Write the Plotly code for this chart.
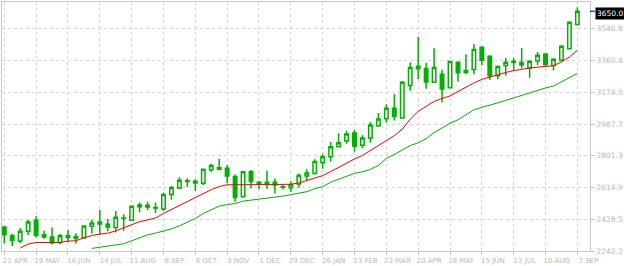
import plotly.graph_objects as go

# ---- data (weekly, 21 Apr 2014 .. 7 Sep 2015) ----
week_index = list(range(73))
tick_positions = list(range(0, 73, 4))
tick_labels = ["21 APR", "19 MAY", "16 JUN", "14 JUL", "11 AUG", "8 SEP", "6 OCT",
               "3 NOV", "1 DEC", "29 DEC", "26 JAN", "23 FEB", "23 MAR", "20 APR",
               "18 MAY", "15 JUN", "13 JUL", "10 AUG", "7 SEP"]

open_ = [2383.7, 2331.3, 2300.4, 2357.5, 2423.3, 2337.1, 2323.7, 2291.7, 2331.3, 2326.6,
         2317.9, 2387.8, 2412.8, 2399.4, 2379.6, 2433.2, 2422.7, 2511.9, 2510.7, 2494.4,
         2488.6, 2574.2, 2612.6, 2654.5, 2651.6, 2640.0, 2719.8, 2731.4, 2727.3, 2679.0,
         2560.2, 2708.1, 2645.8, 2645.8, 2645.8, 2617.8, 2613.8, 2635.9, 2682.5, 2696.5,
         2760.5, 2795.5, 2853.7, 2888.7, 2935.3, 2863.0, 2906.1, 2977.8, 3018.5, 3080.9,
         3022.6, 3213.6, 3327.2, 3313.8, 3232.3, 3280.6, 3200.8, 3350.5, 3290.5, 3308.0,
         3437.9, 3385.5, 3270.7, 3331.3, 3356.3, 3348.8, 3315.6, 3358.1, 3398.8, 3331.3,
         3362.2, 3430.3, 3571.8]
high = [2387.8, 2344.1, 2377.9, 2424.5, 2446.0, 2360.4, 2380.8, 2343.0, 2367.4, 2347.0,
        2392.5, 2426.2, 2482.7, 2430.3, 2476.9, 2457.7, 2507.8, 2527.6, 2531.1, 2527.6,
        2585.8, 2624.3, 2674.9, 2669.1, 2663.3, 2724.4, 2754.7, 2783.8, 2746.6, 2690.6,
        2711.6, 2717.4, 2653.4, 2713.9, 2667.3, 2632.4, 2651.6, 2696.5, 2722.7, 2781.5,
        2813.0, 2882.8, 2932.9, 2948.7, 2952.7, 2921.3, 2999.3, 3051.7, 3104.2, 3162.4,
        3239.8, 3349.3, 3497.9, 3347.6, 3433.2, 3306.8, 3359.2, 3353.4, 3397.1, 3457.1,
        3443.7, 3391.3, 3331.3, 3375.6, 3375.6, 3433.8, 3362.2, 3410.5, 3401.1, 3373.8,
        3449.5, 3591.1, 3672.6]
low = [2285.9, 2271.3, 2287.0, 2334.2, 2320.8, 2313.8, 2280.6, 2281.2, 2293.5, 2286.5,
       2315.0, 2344.7, 2337.1, 2358.7, 2350.5, 2360.4, 2418.7, 2469.3, 2482.7, 2465.3,
       2476.9, 2542.7, 2605.0, 2618.4, 2595.1, 2630.1, 2705.8, 2715.7, 2640.0, 2531.1,
       2556.7, 2609.1, 2605.0, 2606.8, 2580.0, 2603.3, 2589.3, 2614.9, 2653.4, 2690.6,
       2725.6, 2766.4, 2849.6, 2871.2, 2824.6, 2845.6, 2877.0, 2972.0, 2997.0, 3008.6,
       3018.5, 3183.4, 3250.3, 3195.0, 3228.2, 3113.5, 3196.2, 3235.8, 3280.6, 3280.6,
       3333.0, 3245.7, 3251.5, 3270.7, 3298.1, 3315.6, 3259.1, 3334.8, 3327.2, 3302.2,
       3356.3, 3424.5, 3566.0]
close = [2337.1, 2303.9, 2358.7, 2412.8, 2335.4, 2324.3, 2290.5, 2331.3, 2321.4, 2315.0,
         2389.5, 2407.0, 2401.2, 2383.7, 2440.2, 2436.1, 2504.3, 2502.0, 2500.2, 2497.3,
         2574.2, 2614.9, 2657.5, 2649.9, 2641.7, 2721.5, 2744.8, 2721.5, 2682.5, 2556.7,
         2708.1, 2649.9, 2634.2, 2632.4, 2630.0, 2619.6, 2631.2, 2684.8, 2699.4, 2768.1,
         2795.5, 2853.7, 2877.0, 2929.4, 2857.2, 2906.1, 2981.8, 3016.8, 3080.9, 3031.9,
         3232.3, 3320.2, 3311.5, 3234.0, 3319.6, 3193.3, 3354.6, 3288.2, 3302.2, 3424.5,
         3362.2, 3270.7, 3325.5, 3350.5, 3348.8, 3334.8, 3356.3, 3391.3, 3337.1, 3368.0,
         3443.7, 3585.2, 3650.0]

ma_red = [None, None,
          2259.7, 2283.0, 2292.3, 2293.5, 2290.5, 2292.3, 2300.4, 2302.2, 2319.7, 2333.1,
          2341.2, 2347.0, 2360.4, 2377.9, 2398.3, 2414.6, 2424.5, 2436.1, 2462.3, 2485.6,
          2511.9, 2535.1, 2555.5, 2578.8, 2602.1, 2620.8, 2631.2, 2631.2, 2632.4, 2632.4,
          2632.4, 2632.4, 2632.4, 2632.4, 2634.2, 2641.7, 2655.7, 2669.1, 2684.8, 2708.1,
          2733.2, 2756.5, 2782.7, 2803.1, 2832.2, 2861.3, 2893.3, 2919.5, 2957.4, 3015.6,
          3062.2, 3092.5, 3120.5, 3137.9, 3152.5, 3178.7, 3204.9, 3228.2, 3249.8, 3264.9,
          3278.9, 3290.5, 3301.0, 3309.7, 3316.7, 3321.4, 3324.3, 3330.1, 3352.3, 3381.4,
          3420.4]
ma_green = [None] * 11 + [
          2257.3, 2263.2, 2271.3, 2277.1, 2284.7, 2302.2, 2319.7, 2337.1, 2347.0, 2357.5,
          2372.1, 2389.5, 2409.9, 2433.2, 2462.3, 2485.6, 2506.0, 2514.8, 2520.6, 2535.1,
          2541.0, 2545.0, 2549.7, 2558.4, 2564.3, 2573.0, 2580.0, 2590.5, 2607.9, 2619.6,
          2645.8, 2663.3, 2680.7, 2698.2, 2707.0, 2721.5, 2744.8, 2785.6, 2808.9, 2835.1,
          2861.3, 2877.0, 2902.1, 2937.0, 2966.1, 2992.3, 3012.7, 3041.8, 3071.0, 3085.5,
          3097.2, 3111.7, 3126.3, 3140.8, 3158.3, 3172.9, 3187.4, 3199.1, 3210.7, 3236.9,
          3260.2, 3284.7]

price_ticks = [2242.2, 2428.5, 2614.9, 2801.3, 2987.7, 3174.0, 3360.4, 3546.8]
price_labels = ["2242.2", "2428.5", "2614.9", "2801.3", "2987.7", "3174.0", "3360.4", "3546.8"]
last_price = close[-1]
y_range = [2242.2, 3704.05]
x_range = [-0.2875, 73.5875]

# ---- style ----
GREEN = "#00b000"
RED = "#ff0000"
GRID = "#d9d9d9"
AXIS = "#c8c8c8"
TXT = "#b9b9b9"
FONT = "DejaVu Sans"

fig = go.Figure()
fig.add_trace(go.Candlestick(
    x=week_index, open=open_, high=high, low=low, close=close,
    increasing=dict(line=dict(color=GREEN, width=1.5), fillcolor="white"),
    decreasing=dict(line=dict(color=GREEN, width=1.5), fillcolor=GREEN),
    whiskerwidth=0, showlegend=False, hoverinfo="skip"))
fig.add_trace(go.Scatter(x=week_index, y=ma_green, mode="lines",
                         line=dict(color=GREEN, width=1), showlegend=False, hoverinfo="skip"))
fig.add_trace(go.Scatter(x=week_index, y=ma_red, mode="lines",
                         line=dict(color=RED, width=1), showlegend=False, hoverinfo="skip"))

fig.update_layout(
    width=624, height=266,
    margin=dict(l=2, r=31, t=1, b=14, pad=0),
    paper_bgcolor="white", plot_bgcolor="white",
    boxgap=0.38,
    showlegend=False,
    xaxis=dict(range=x_range, tickvals=tick_positions, ticktext=tick_labels,
               showgrid=True, gridcolor=GRID, griddash="3px,3px", gridwidth=1,
               showline=True, linecolor=AXIS, linewidth=1, mirror=True,
               ticks="outside", ticklen=3, tickcolor=AXIS,
               tickfont=dict(family=FONT, size=7, color=TXT),
               ticklabelshift=11, ticklabelstandoff=0,
               zeroline=False, rangeslider=dict(visible=False), fixedrange=True),
    yaxis=dict(range=y_range, tickvals=price_ticks, ticktext=price_labels, side="right",
               showgrid=True, gridcolor=GRID, griddash="3px,3px", gridwidth=1,
               showline=True, linecolor=AXIS, linewidth=1, mirror=True,
               ticks="outside", ticklen=4, tickcolor=AXIS,
               tickfont=dict(family=FONT, size=7.5, color=TXT),
               ticklabelstandoff=0,
               zeroline=False, fixedrange=True),
)

# last price marker
fig.add_shape(type="line", xref="paper", yref="y", x0=1.0, x1=1.0085,
              y0=last_price, y1=last_price, line=dict(color="black", width=1))
fig.add_annotation(xref="paper", yref="y", x=1.0085, y=last_price, xanchor="left",
                   yanchor="middle", yshift=-2, showarrow=False, text=f"{last_price:.1f}",
                   font=dict(family=FONT, size=7.5, color="white"), bgcolor="black",
                   borderpad=1)

fig.write_html("out.html")
